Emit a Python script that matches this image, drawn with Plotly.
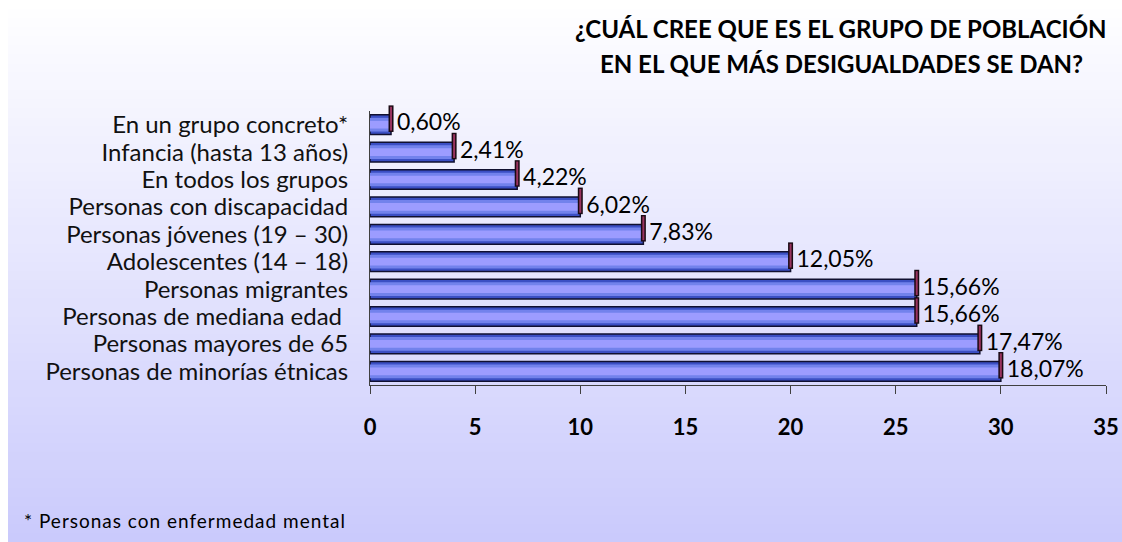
import plotly.graph_objects as go

categories = [
    "En un grupo concreto*",
    "Infancia (hasta 13 años)",
    "En todos los grupos",
    "Personas con discapacidad",
    "Personas jóvenes (19 – 30)",
    "Adolescentes (14 – 18)",
    "Personas migrantes",
    "Personas de mediana edad ",
    "Personas mayores de 65",
    "Personas de minorías étnicas",
]
counts = [1, 4, 7, 10, 13, 20, 26, 26, 29, 30]
pct_labels = ["0,60%", "2,41%", "4,22%", "6,02%", "7,83%", "12,05%",
              "15,66%", "15,66%", "17,47%", "18,07%"]
x_ticks = [0, 5, 10, 15, 20, 25, 30, 35]
title_lines = ["¿CUÁL CREE QUE ES EL GRUPO DE POBLACIÓN",
               "EN EL QUE MÁS DESIGUALDADES SE DAN?"]
footnote = "* Personas con enfermedad mental"

FONT = "Lato"
W, H = 1122, 542
L, R, T, B = 370, 16, 111, 157
n = len(categories)
ypos = list(range(n))

fig = go.Figure()

# layered bars to mimic cylinder shading
fig.add_trace(go.Bar(x=counts, y=ypos, orientation="h", width=0.72,
                     marker=dict(color="#3B4FC4", line=dict(color="#101030", width=1.5)),
                     hoverinfo="skip", showlegend=False))
fig.add_trace(go.Bar(x=counts, y=ypos, orientation="h", width=0.5,
                     marker=dict(color="#7282EC", line=dict(width=0)),
                     hoverinfo="skip", showlegend=False))
fig.add_trace(go.Bar(x=counts, y=ypos, orientation="h", width=0.28,
                     marker=dict(color="#9C9CFF", line=dict(width=0)),
                     hoverinfo="skip", showlegend=False))

# end caps
cap_y = [v - 0.22 for v in ypos]
fig.add_trace(go.Scatter(x=counts, y=cap_y, mode="markers",
                         marker=dict(symbol="line-ns", size=19,
                                     line=dict(color="#1a0a14", width=5)),
                         hoverinfo="skip", showlegend=False, cliponaxis=False))
fig.add_trace(go.Scatter(x=counts, y=cap_y, mode="markers",
                         marker=dict(symbol="line-ns", size=17,
                                     line=dict(color="#99335F", width=2)),
                         hoverinfo="skip", showlegend=False, cliponaxis=False))

# value labels
fig.add_trace(go.Scatter(x=counts, y=ypos, mode="text", text=pct_labels,
                         texttemplate="\u00a0%{text}",
                         textposition="middle right",
                         textfont=dict(family=FONT, size=23, color="#000000"),
                         hoverinfo="skip", showlegend=False, cliponaxis=False))

# gradient background bands
pw = W - L - R
ph = H - T - B
nb = 60
for i in range(nb):
    top_px = H * i / nb
    bot_px = H * (i + 1) / nb + 1
    f = (i + 0.5) / nb
    r = round(255 + (202 - 255) * f)
    g = round(255 + (202 - 255) * f)
    b = round(255 + (252 - 255) * f)
    fig.add_shape(type="rect", xref="paper", yref="paper",
                  x0=(8 - L) / pw, x1=(W + 30 - L) / pw,
                  y0=(H - B - bot_px) / ph, y1=(H - B - top_px) / ph,
                  fillcolor=f"rgb({r},{g},{b})", line=dict(width=0), layer="below")

title_y = [28, 63]
for txt, yp in zip(title_lines, title_y):
    fig.add_annotation(text=f"<b>{txt}</b>", xref="paper", yref="paper",
                       x=(841 - L) / pw, y=(H - B - yp) / ph,
                       xanchor="center", yanchor="middle", showarrow=False,
                       font=dict(family=FONT, size=24, color="#000000"))

fig.add_annotation(text=f"<span style='letter-spacing:1px'>{footnote}</span>",
                   xref="paper", yref="paper",
                   x=(22 - L) / pw, y=(H - B - 520) / ph,
                   xanchor="left", yanchor="middle", showarrow=False,
                   font=dict(family=FONT, size=19, color="#000000"))

fig.update_layout(
    width=W, height=H,
    margin=dict(l=L, r=R, t=T, b=B),
    paper_bgcolor="#FFFFFF", plot_bgcolor="rgba(0,0,0,0)",
    barmode="overlay", bargap=0.28,
    font=dict(family=FONT, color="#000000"),
    hovermode=False,
    xaxis=dict(range=[0, 35], tickvals=x_ticks, showgrid=False, zeroline=False,
               showline=True, linecolor="#404040", linewidth=1,
               ticks="outside", ticklen=8, tickcolor="#404040",
               tickfont=dict(family=FONT, size=22, color="#000000", weight="bold"),
               ticklabelstandoff=15, automargin=False, fixedrange=True),
    yaxis=dict(range=[n - 0.5, -0.5], tickvals=ypos, ticktext=categories,
               showgrid=False, zeroline=False, showline=True,
               linecolor="#404040", linewidth=1, ticks="",
               tickfont=dict(family=FONT, size=24, color="#111111"),
               ticklabelstandoff=16, automargin=False, fixedrange=True),
)

fig.write_html(
    "out.html",
    config={"displayModeBar": False, "staticPlot": True},
    post_script="document.body.style.margin='0';document.body.style.overflow='hidden';",
)
